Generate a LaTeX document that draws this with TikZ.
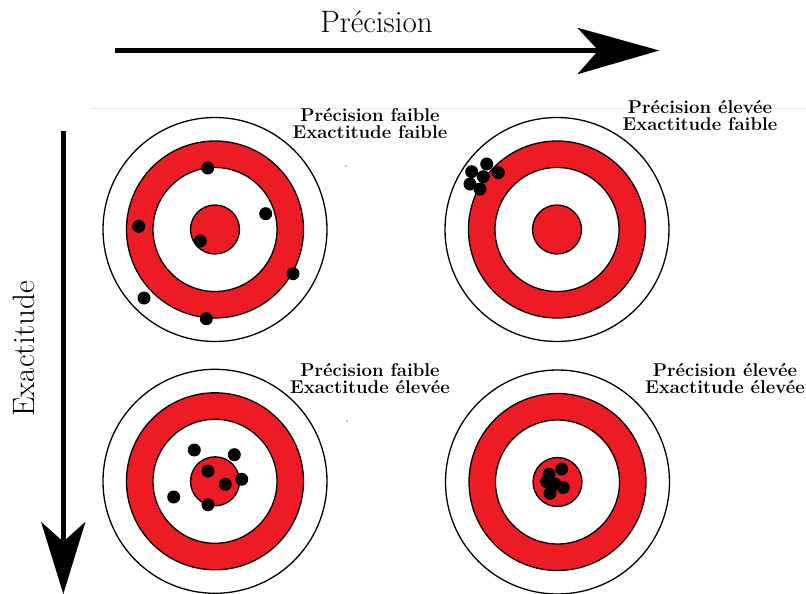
\documentclass[tikz,border=0pt]{standalone}
\definecolor{tred}{RGB}{237,28,36}
\tikzset{
  ring/.style={draw=black, line width=1.3pt},
  tgt/.pic={
    \draw[ring, fill=white] (0,0) circle (112pt);
    \draw[ring, fill=tred] (0,0) circle (88.5pt);
    \draw[ring, fill=white] (0,0) circle (62pt);
    \draw[ring, fill=tred] (0,0) circle (24.5pt);
  },
  shot/.style={fill=black},
  lbl/.style={align=center, inner sep=0pt, font=\fontsize{18.5}{17}\selectfont\bfseries},
  axis/.style={line width=4.5pt},
  bigtxt/.style={font=\fontsize{31}{36}\selectfont}
}
\begin{document}
\begin{tikzpicture}[x=1pt,y=-1pt]
\useasboundingbox (0,0) rectangle (806,594);
% faint separator
\draw[black!8, line width=0.8pt] (90,108.3) -- (806,108.3);
% horizontal axis
\coordinate (hs) at (115,50.5);
\coordinate (he) at (600,50.5);
\draw[axis] (hs) -- (he);
\fill (577.3,27.7) -- (659.3,50.5) -- (577.3,74.3) -- (598.3,50.5) -- cycle;
\node[bigtxt, anchor=base] (ptitle) at (376.5,33) {Précision};
% vertical axis
\coordinate (vs) at (63.3,130.5);
\coordinate (ve) at (63.3,541);
\draw[axis] (vs) -- (ve);
\fill (41,521.7) -- (63.3,594) -- (85.5,521.7) -- (63.3,541.7) -- cycle;
\node[bigtxt, rotate=90] (etitle) at (24,349) {Exactitude};
% targets
\pic at (215,229.5) {tgt};
\pic at (557,229.5) {tgt};
\pic at (215,481.3) {tgt};
\pic at (557.5,482) {tgt};
% labels
\node[lbl] (l1) at (370,123.5) {Précision faible\\Exactitude faible};
\node[lbl] (l2) at (700,115.5) {Précision élevée\\Exactitude faible};
\node[lbl] (l3) at (370,378.5) {Précision faible\\Exactitude élevée};
\node[lbl] (l4) at (725,379) {Précision élevée\\Exactitude élevée};
% specks
\fill[black!50] (346,166) circle (0.8pt);
\fill[black!50] (347,421) circle (0.8pt);
% shots TL
\foreach \p in {(207.7,168),(265.7,213.7),(138.7,226.3),(200.3,241),(293,273.7),(144,298),(206.3,318.7)}
  \fill[shot] \p circle (6.5pt);
% shots TR
\foreach \p in {(486.7,164),(498.3,172.7),(471.7,171.7),(483.3,176.7),(470,184),(480,189)}
  \fill[shot] \p circle (6.5pt);
% shots BL
\foreach \p in {(194.3,450),(234.3,454.7),(208,471),(241.7,479.3),(225.3,484.3),(173.7,497),(208,504.7)}
  \fill[shot] \p circle (6.5pt);
% shots BR
\foreach \p in {(561.7,469),(549,474.3),(546.7,481.7),(555,484),(563.3,487.5),(550,493.3)}
  \fill[shot] \p circle (6.5pt);
\end{tikzpicture}
\end{document}
